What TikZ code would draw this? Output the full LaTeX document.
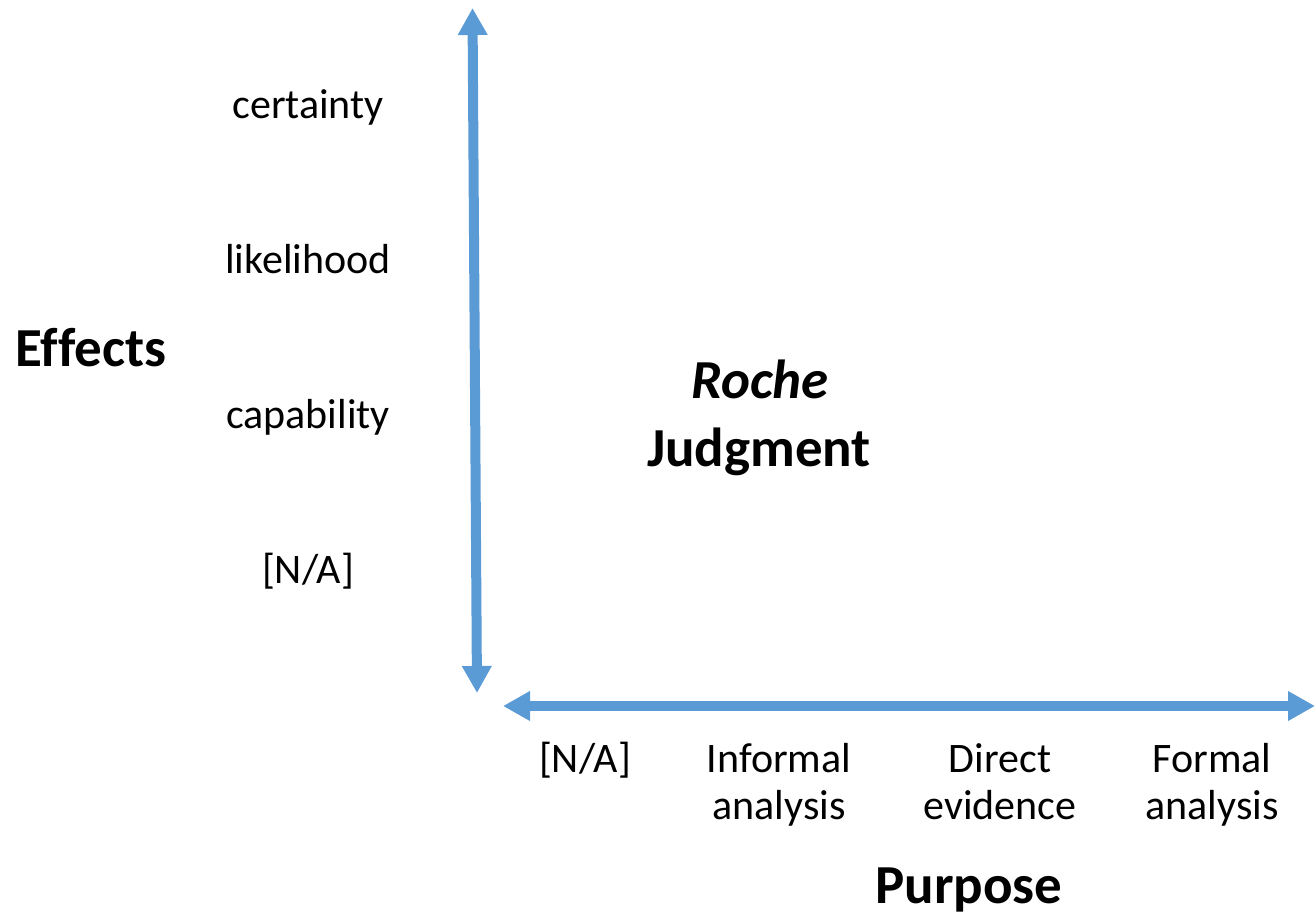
\documentclass[tikz,border=0pt]{standalone}
\usepackage{fontspec}
\setmainfont[Ligatures=NoCommon]{Carlito}
\usetikzlibrary{arrows.meta}
\definecolor{axisblue}{HTML}{5B9BD5}
\tikzset{
  axis/.style={line width=10pt, draw=axisblue, {Triangle[width=28pt,length=27pt]}-{Triangle[width=28pt,length=27pt]}},
  lbl/.style={anchor=base, inner sep=0pt, font=\fontsize{42}{47}\selectfont, align=center},
  big/.style={anchor=base, inner sep=0pt, font=\fontsize{55}{60}\selectfont\bfseries, align=center}
}
\begin{document}
\begin{tikzpicture}[x=1pt,y=-1pt]
\useasboundingbox (0,0) rectangle (1315,916);
% axes
\coordinate (vtop) at (472.5,8);
\coordinate (vbot) at (477,693);
\coordinate (hleft) at (503,706);
\coordinate (hright) at (1315,706);
\draw[axis] (vtop) -- (vbot);
\draw[axis] (hleft) -- (hright);
% effects labels
\node[lbl] (certainty) at (308,118) {certainty};
\node[lbl] (likelihood) at (308,273) {likelihood};
\node[lbl] (capability) at (308,428) {capability};
\node[lbl] (naE) at (308,583) {[N/A]};
\node[big] (effects) at (91,366) {Effects};
% purpose labels (base = last line)
\node[lbl] (naP) at (585,772) {[N/A]};
\node[lbl] (informal) at (779,819) {Informal\\analysis};
\node[lbl] (direct) at (1000,819) {Direct\\evidence};
\node[lbl] (formal) at (1212,819) {Formal\\analysis};
\node[big] (purpose) at (969,903) {Purpose};
% centre
\node[big] (roche) at (760,398) {\itshape Roche};
\node[big] (judgment) at (759,466) {Judgment};
\end{tikzpicture}
\end{document}
